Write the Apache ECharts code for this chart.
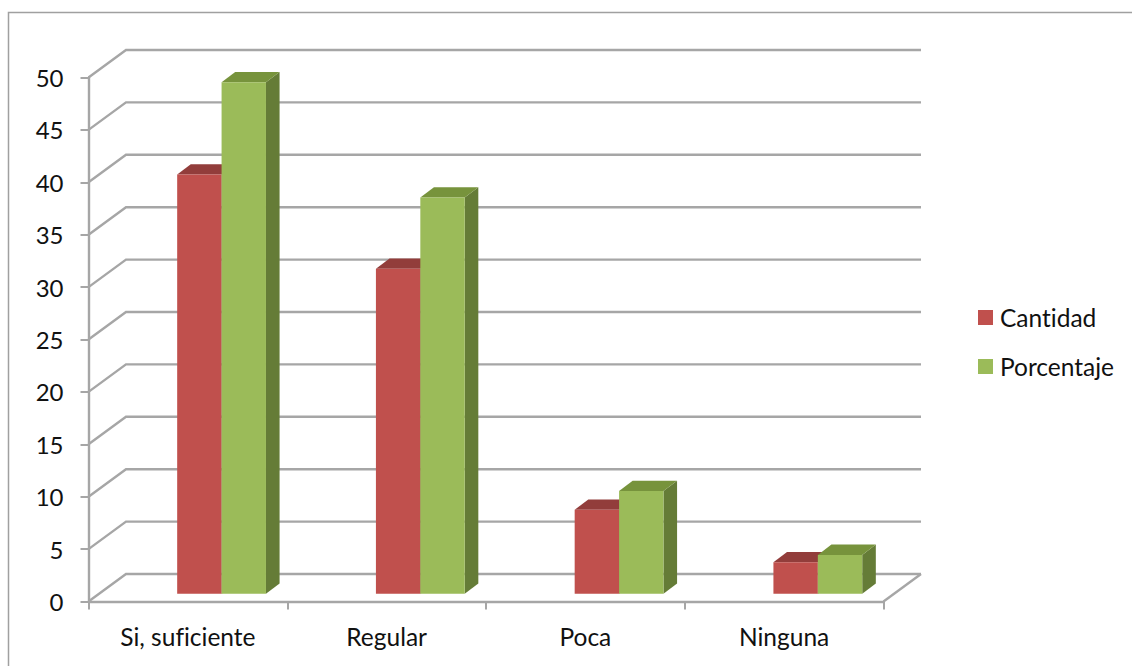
<!DOCTYPE html>
<html>
<head>
<meta charset="utf-8">
<style>html,body{margin:0;padding:0;background:#fff}#chart{width:1132px;height:666px}#chart text{font-variant-ligatures:none}</style>
<script src="https://cdn.jsdelivr.net/npm/echarts@6/dist/echarts.min.js"></script>
</head>
<body>
<div id="chart"></div>
<script>
const categories = ['Si, suficiente', 'Regular', 'Poca', 'Ninguna'];
const cantidad = [40, 31, 8, 3];
const porcentaje = [48.8, 37.8, 9.8, 3.7];
const ticks = [0, 5, 10, 15, 20, 25, 30, 35, 40, 45, 50];

// Oblique projection of the pseudo-3D box, in pixels
const WALL_DX = 37.5, WALL_DY = 27.5;
const BAR_FRONT_DX = 33.7, BAR_FRONT_DY = 7.8;
const BAR_W = 44.4, BAR_SIDE_DX = 13.6, BAR_SIDE_DY = 10.3;
const GRID_COLOR = '#a6a6a6';
const TEXT_COLOR = '#111111';
const FONT = 'Lato, "Open Sans", sans-serif';

function wallLines(params, api) {
  const sys = params.coordSys;
  const y = api.coord([0, api.value(0)])[1];
  const x0 = sys.x, x1 = sys.x + sys.width;
  const style = { stroke: GRID_COLOR, lineWidth: 2.4, fill: 'none' };
  const children = [{
    type: 'polyline',
    shape: { points: [[x0, y], [x0 + WALL_DX, y - WALL_DY], [x1 + WALL_DX, y - WALL_DY]] },
    style
  }];
  if (api.value(0) === 0) {
    children.push({
      type: 'line',
      shape: { x1: x1, y1: y, x2: x1 + WALL_DX, y2: y - WALL_DY },
      style
    });
  }
  return { type: 'group', children };
}

function barRenderer(slot, front, top, side) {
  return function (params, api) {
    const idx = api.value(0);
    const c = api.coord([idx, api.value(1)]);
    const base = api.coord([idx, 0]);
    const l = c[0] + BAR_FRONT_DX + slot * BAR_W;
    const r = l + BAR_W;
    const t = c[1] - BAR_FRONT_DY;
    const b = base[1] - BAR_FRONT_DY;
    const dx = BAR_SIDE_DX, dy = BAR_SIDE_DY;
    return {
      type: 'group',
      children: [
        { type: 'polygon', shape: { points: [[r, t], [r + dx, t - dy], [r + dx, b - dy], [r, b]] }, style: { fill: side } },
        { type: 'polygon', shape: { points: [[l, t], [l + dx, t - dy], [r + dx, t - dy], [r, t]] }, style: { fill: top } },
        { type: 'rect', shape: { x: l, y: t, width: BAR_W, height: b - t }, style: { fill: front } }
      ]
    };
  };
}

const chart = echarts.init(document.getElementById('chart'), null, { renderer: 'svg' });
chart.setOption({
  animation: false,
  backgroundColor: '#ffffff',
  textStyle: { fontFamily: FONT },
  graphic: [{
    type: 'polyline',
    silent: true,
    shape: { points: [[8.5, 666], [8.5, 12.5], [1132, 12.5]] },
    style: { stroke: '#a0a0a0', lineWidth: 1.5, fill: 'none' }
  }],
  grid: { left: 88.5, right: 248.5, top: 77.5, bottom: 64.5 },
  legend: {
    orient: 'vertical',
    left: 973,
    top: 300,
    itemWidth: 15,
    itemHeight: 15,
    itemGap: 24,
    icon: 'rect',
    data: ['Cantidad', 'Porcentaje'],
    selectedMode: false,
    textStyle: { fontFamily: FONT, fontSize: 24.5, color: TEXT_COLOR, padding: [0, 0, 3, 2] }
  },
  xAxis: {
    type: 'category',
    data: categories,
    boundaryGap: true,
    axisLine: { show: true, lineStyle: { color: GRID_COLOR, width: 2.4 } },
    axisTick: { show: true, alignWithLabel: false, length: 8, lineStyle: { color: GRID_COLOR, width: 2 } },
    axisLabel: { fontFamily: FONT, fontSize: 24.5, color: TEXT_COLOR, margin: 22 }
  },
  yAxis: {
    type: 'value',
    min: 0,
    max: 50,
    interval: 5,
    splitLine: { show: false },
    axisLine: { show: true, lineStyle: { color: GRID_COLOR, width: 2.4 } },
    axisTick: { show: true, length: 8, lineStyle: { color: GRID_COLOR, width: 2 } },
    axisLabel: { fontFamily: FONT, fontSize: 24, color: TEXT_COLOR, margin: 25, padding: [15, 0, 0, 0] }
  },
  series: [
    {
      name: 'Paredes',
      type: 'custom',
      coordinateSystem: 'cartesian2d',
      renderItem: wallLines,
      data: ticks.map(v => [v]),
      encode: { y: 0 },
      silent: true,
      z: 1
    },
    {
      name: 'Cantidad',
      type: 'custom',
      coordinateSystem: 'cartesian2d',
      renderItem: barRenderer(-1, '#C0504D', '#923D3B', '#8A3A38'),
      data: cantidad.map((v, i) => [i, v]),
      encode: { x: 0, y: 1 },
      itemStyle: { color: '#C0504D' },
      z: 3
    },
    {
      name: 'Porcentaje',
      type: 'custom',
      coordinateSystem: 'cartesian2d',
      renderItem: barRenderer(0, '#9BBB59', '#77933C', '#657C37'),
      data: porcentaje.map((v, i) => [i, v]),
      encode: { x: 0, y: 1 },
      itemStyle: { color: '#9BBB59' },
      z: 4
    }
  ]
});
</script>
</body>
</html>
